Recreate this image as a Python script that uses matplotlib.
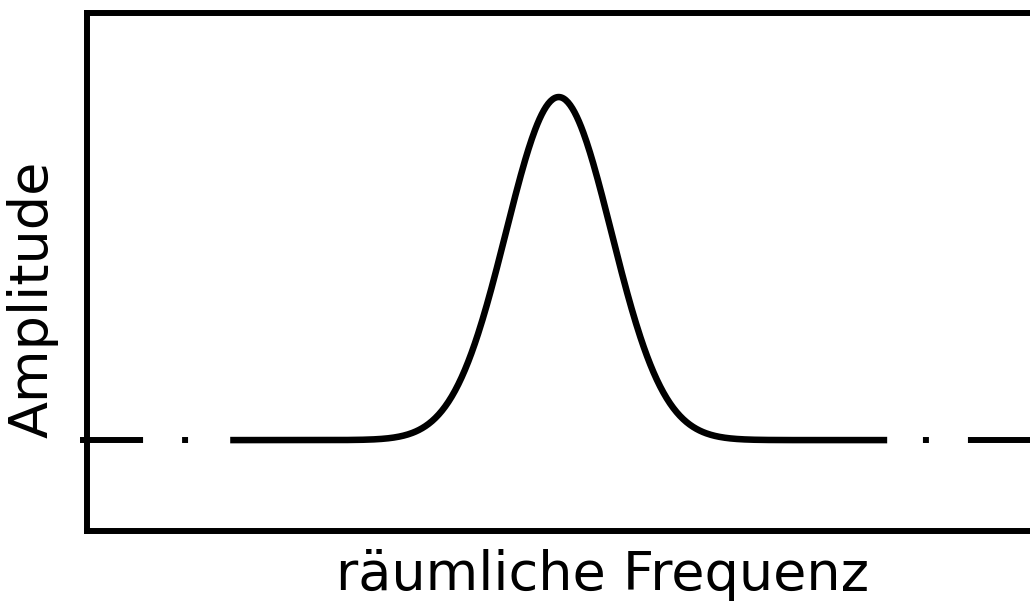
import numpy as np
import matplotlib.pyplot as plt

# Gaussian band in spatial-frequency space (arbitrary units)
peak_center = 4.60
peak_width = 0.513
peak_height = 1.0
curve_halfspan = 3.2      # solid curve drawn over center +/- this
baseline_halfspan = 4.66  # dash-dot baseline reaches out this far

x_label = "räumliche Frequenz"
y_label = "Amplitude"

plt.rcParams['lines.scale_dashes'] = False

fig = plt.figure(figsize=(10.30, 6.03), dpi=100)
ax = fig.add_axes([86.5 / 1030, 72 / 603, (1113 - 86.5) / 1030, 518 / 603])
ax.set_xlim(0, 10)
ax.set_ylim(-0.265, 1.245)

x = np.linspace(peak_center - curve_halfspan, peak_center + curve_halfspan, 600)
y = peak_height * np.exp(-0.5 * ((x - peak_center) / peak_width) ** 2)
ax.plot(x, y, color='black', lw=4.7, solid_capstyle='butt', clip_on=False)

# dash-dot baseline on both sides, drawn outward-in so the pattern is mirrored
dash_pattern = (0, (45.4, 28.1, 4.3, 30.2))
left = [peak_center - baseline_halfspan, peak_center - curve_halfspan]
right = [peak_center + baseline_halfspan, peak_center + curve_halfspan]
for seg in (left, right):
    ax.plot(seg, [0, 0], color='black', lw=4.3, linestyle=dash_pattern,
            dash_capstyle='butt', clip_on=False)

for side in ax.spines.values():
    side.set_linewidth(4.3)
ax.set_xticks([])
ax.set_yticks([])

fig.text(603 / 1030, 1 - 590 / 603, x_label, fontsize=39,
         ha='center', va='baseline')
fig.text(33 / 1030, 1 - 299 / 603, y_label, fontsize=39, rotation=90,
         ha='center', va='center')

fig.savefig('out.png', dpi=100)
plt.close(fig)
